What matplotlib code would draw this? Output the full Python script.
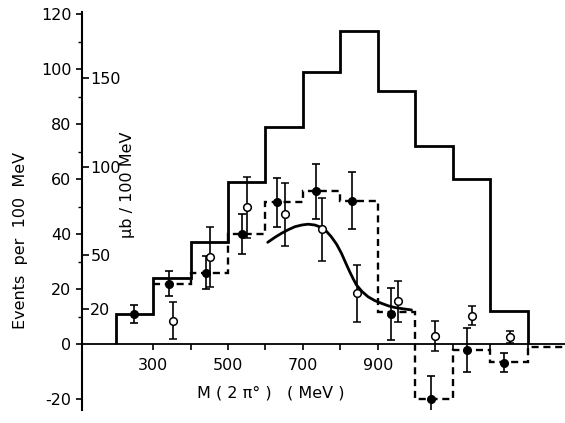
import matplotlib
matplotlib.use("Agg")
import matplotlib.pyplot as plt
import numpy as np

# ---- data ----
bin_edges_solid = [200, 300, 400, 500, 600, 700, 800, 900, 1000, 1100, 1200, 1300]
solid_counts = [11, 24, 37, 59, 79, 99, 114, 92, 72, 60, 12]

bin_edges_dashed = [300, 400, 500, 600, 700, 800, 900, 1000, 1100, 1200, 1300, 1400]
dashed_counts = [22, 26, 40, 51.5, 55.5, 52, 11.5, -20, -2, -6.5, -1]

filled_m = [250, 343, 440, 537, 630, 735, 831, 936, 1043, 1137, 1236]
filled_v = [11, 22, 26, 40, 51.5, 55.5, 52.2, 11, -20, -2, -6.8]
filled_err = [3.3, 4.5, 6, 7.3, 9, 10, 10.5, 9.5, 8.5, 8, 3.5]

open_m = [354, 452, 550, 652, 752, 845, 954, 1052, 1151, 1252]
open_v = [8.5, 31.6, 49.7, 47.2, 41.7, 18.4, 15.5, 3, 10.3, 2.7]
open_err = [6.8, 10.8, 11, 11.5, 11.5, 10.5, 7.5, 5.5, 3.5, 2.2]

curve_m = [606, 625, 643, 661, 679, 697, 714, 732, 750, 763, 776, 790, 803, 814,
           825, 834, 843, 858, 874, 892, 910, 928, 945, 968, 990]
curve_v = [37.0, 38.8, 40.3, 41.6, 42.7, 43.3, 43.6, 43.3, 42.4, 41.0, 39.0, 36.3,
           33.0, 29.6, 26.3, 23.8, 21.5, 19.1, 17.2, 15.8, 14.8, 13.9, 13.3, 12.8, 12.4]

x_ticks = [300, 400, 500, 600, 700, 800, 900, 1000, 1100, 1200, 1300]
x_labels = ["300", "", "500", "", "700", "", "900", "", "", "", ""]
y_ticks = [-20, 0, 20, 40, 60, 80, 100, 120]
y_labels = ["-20", "0", "20", "40", "60", "80", "100", "120"]
ub_ticks = [20, 50, 100, 150]
ub_per_event = 1 / 0.645  # conversion between the two vertical scales

plt.rcParams['font.family'] = ['DejaVu Sans']

fig = plt.figure(figsize=(5.65, 4.23), dpi=100)
ax = fig.add_axes([82 / 565, 13 / 423, 483 / 565, 398 / 423])

ax.set_xlim(110, 1400)
ax.set_ylim(-24, 120.8)

# histograms
ax.stairs(solid_counts, bin_edges_solid, baseline=0, color='black', lw=2.0)
ax.stairs(dashed_counts, bin_edges_dashed, baseline=None, color='black', lw=1.7,
          linestyle=(0, (3, 2)))

# curve
ax.plot(curve_m, curve_v, color='black', lw=2.0, solid_capstyle='round')

# points
ax.errorbar(filled_m, filled_v, yerr=filled_err, fmt='o', color='black',
            mfc='black', mec='black', ms=5.5, elinewidth=1.2, capsize=3.2,
            capthick=1.2, zorder=5)
ax.errorbar(open_m, open_v, yerr=open_err, fmt='o', color='black',
            mfc='white', mec='black', ms=5.5, mew=1.1, elinewidth=1.2, capsize=3.2,
            capthick=1.2, zorder=5)

# spines
for s in ['top', 'right']:
    ax.spines[s].set_visible(False)
ax.spines['bottom'].set_position(('data', 0))
ax.spines['left'].set_linewidth(1.5)
ax.spines['bottom'].set_linewidth(1.3)

ax.set_xticks(x_ticks)
ax.set_xticklabels(x_labels)
ax.set_yticks(y_ticks)
ax.set_yticklabels(y_labels)
ax.set_yticks([10, 30, 50, 70, 90, 110], minor=True)
ax.tick_params(axis='both', which='major', direction='out', length=4, width=1.2,
               labelsize=11.5)
ax.tick_params(axis='y', which='minor', direction='out', length=3, width=1.0)
ax.tick_params(axis='x', pad=6)

ax.set_xlabel("M ( 2 π° )   ( MeV )", fontsize=11.5)
ax.xaxis.set_label_coords((271 - 82) / 483, (410 - 385) / 398)
ax.set_ylabel("Events  per  100  MeV", fontsize=11.5)
ax.yaxis.set_label_coords((28 - 82) / 483, (410 - 240) / 398)

# secondary scale (microbarn per 100 MeV) on the same spine, ticks pointing right
tw = ax.twinx()
tw.set_ylim(-24 * ub_per_event, 120.8 * ub_per_event)
for s in ['top', 'left', 'bottom']:
    tw.spines[s].set_visible(False)
tw.spines['right'].set_position(('axes', 0))
tw.spines['right'].set_visible(False)
tw.set_yticks(ub_ticks)
tw.set_yticklabels([str(t) for t in ub_ticks])
tw.tick_params(axis='y', direction='out', length=5, width=1.2, labelsize=11.5, pad=1)
tw.set_ylabel("μb / 100 MeV", fontsize=11.5, rotation=90)
tw.yaxis.set_label_coords((120 - 82) / 483, (410 - 185) / 398)

fig.savefig("out.png", dpi=100)
